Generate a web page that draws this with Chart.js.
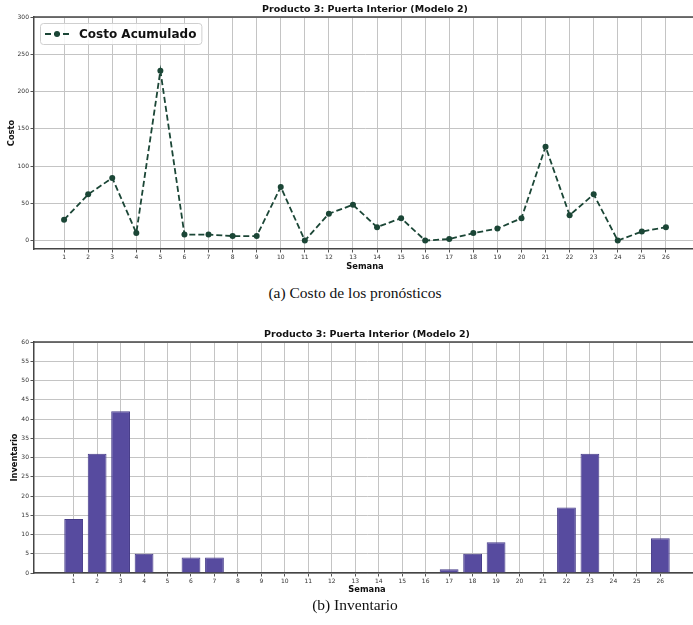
<!DOCTYPE html>
<html>
<head>
<meta charset="utf-8">
<script src="https://cdn.jsdelivr.net/npm/chart.js@4/dist/chart.umd.min.js"></script>
<style>
  html, body { margin: 0; padding: 0; background: #fff; width: 693px; height: 625px; overflow: hidden; }
  #page { position: relative; width: 693px; height: 625px; overflow: hidden; }
  .panel { position: absolute; left: 0; }
  #panelCosto { top: 0; }
  #panelInv { top: 326px; }
  .cap { position: absolute; left: 0; width: 710px; text-align: center;
         font-family: "Liberation Serif", "Times New Roman", serif; font-size: 15.5px;
         line-height: 18px; color: #111; }
  #capA { top: 284px; }
  #capB { top: 596px; }
</style>
</head>
<body>
<div id="page">
  <div class="panel" id="panelCosto"><canvas id="graficoCosto" width="700" height="275"></canvas></div>
  <div class="cap" id="capA">(a) Costo de los pronósticos</div>
  <div class="panel" id="panelInv"><canvas id="graficoInv" width="700" height="273"></canvas></div>
  <div class="cap" id="capB">(b) Inventario</div>
</div>
<script>
// Semanas del horizonte de planeación
const semanas = [1, 2, 3, 4, 5, 6, 7, 8, 9, 10, 11, 12, 13, 14, 15, 16, 17, 18, 19, 20, 21, 22, 23, 24, 25, 26];

// Costo acumulado de los pronósticos por semana
const costo = [28, 62, 84, 10, 228, 8, 8, 6, 6, 72, 0, 36, 48, 18, 30, 0, 2, 10, 16, 30, 126, 34, 62, 0, 12, 18];

// Inventario al final de cada semana
const inventario = [14, 31, 42, 5, 0, 4, 4, 0, 0, 0, 0, 0, 0, 0, 0, 0, 1, 5, 8, 0, 0, 17, 31, 0, 0, 9];

// Marcas de los ejes verticales
const ticksCosto = [0, 50, 100, 150, 200, 250, 300];
const ticksInventario = [0, 5, 10, 15, 20, 25, 30, 35, 40, 45, 50, 55, 60];

const titulo = 'Producto 3: Puerta Interior (Modelo 2)';
const FAMILIA = '"DejaVu Sans", sans-serif';
const GRID = '#c4c4c4';
const SPINE = '#454545';

Chart.defaults.font.family = FAMILIA;
Chart.defaults.color = '#333';

// Marco superior y derecho del área de trazado
const marco = {
  id: 'marco',
  afterDraw(chart) {
    const { ctx, chartArea: a } = chart;
    ctx.save();
    ctx.strokeStyle = SPINE;
    ctx.lineWidth = 1.5;
    ctx.beginPath();
    ctx.moveTo(a.left, a.top);
    ctx.lineTo(a.right, a.top);
    ctx.lineTo(a.right, a.bottom);
    ctx.stroke();
    ctx.restore();
  }
};

// Leyenda dentro del área de trazado (esquina superior izquierda)
const leyenda = {
  id: 'leyenda',
  afterDatasetsDraw(chart) {
    const ds = chart.data.datasets[0];
    const { ctx, chartArea: a } = chart;
    ctx.save();
    ctx.font = 'bold 12px ' + FAMILIA;
    const tw = ctx.measureText(ds.label).width;
    const x = a.left + 6, y = a.top + 6, h = 21, w = 39 + tw + 5;
    ctx.fillStyle = 'rgba(255,255,255,0.85)';
    ctx.strokeStyle = '#cfcfcf';
    ctx.lineWidth = 1;
    ctx.beginPath();
    ctx.roundRect(x + 0.5, y + 0.5, w, h, 3);
    ctx.fill();
    ctx.stroke();
    const cy = y + h / 2 + 0.5;
    ctx.strokeStyle = ds.borderColor;
    ctx.lineWidth = ds.borderWidth;
    ctx.setLineDash(ds.borderDash);
    ctx.beginPath();
    ctx.moveTo(x + 5, cy);
    ctx.lineTo(x + 29, cy);
    ctx.stroke();
    ctx.setLineDash([]);
    ctx.fillStyle = ds.pointBackgroundColor;
    ctx.beginPath();
    ctx.arc(x + 17, cy, ds.pointRadius, 0, Math.PI * 2);
    ctx.fill();
    ctx.fillStyle = '#111';
    ctx.textBaseline = 'middle';
    ctx.fillText(ds.label, x + 39, cy + 0.5);
    ctx.restore();
  }
};

function ejeX(min, max, alto, padTitulo) {
  return {
    type: 'linear',
    min: min,
    max: max,
    offset: false,
    afterBuildTicks: s => { s.ticks = semanas.map(v => ({ value: v })); },
    afterFit: s => { s.height = alto; },
    ticks: { font: { size: 6 }, color: '#333', padding: 1, autoSkip: false, maxRotation: 0 },
    grid: { offset: false, color: GRID, lineWidth: 1, tickLength: 3.5, tickColor: '#555' },
    border: { color: SPINE, width: 1.5 },
    title: { display: true, text: 'Semana', font: { size: 8.3, weight: 'bold' }, color: '#111',
             padding: { top: 0, bottom: padTitulo } }
  };
}

function ejeY(min, max, marcas, texto, padTitulo) {
  return {
    min: min,
    max: max,
    afterBuildTicks: s => { s.ticks = marcas.map(v => ({ value: v })); },
    afterFit: s => { s.width = 34; },
    ticks: { font: { size: 6 }, color: '#333', padding: 1.5 },
    grid: { color: GRID, lineWidth: 1, tickLength: 3.5, tickColor: '#555' },
    border: { color: SPINE, width: 1.5 },
    title: { display: true, text: texto, font: { size: 8.3, weight: 'bold' }, color: '#111',
             padding: { top: padTitulo, bottom: 0 } }
  };
}

function tituloPanel(pt, pb) {
  return {
    display: true, text: titulo, fullSize: false, color: '#111',
    font: { size: 9.5, weight: 'bold' }, padding: { top: pt, bottom: pb }
  };
}

new Chart(document.getElementById('graficoCosto'), {
  type: 'line',
  data: {
    datasets: [{
      label: 'Costo Acumulado',
      data: semanas.map((s, i) => ({ x: s, y: costo[i] })),
      borderColor: '#1b4636',
      backgroundColor: '#1b4636',
      pointBackgroundColor: '#1b4636',
      pointBorderColor: '#1b4636',
      borderWidth: 1.8,
      borderDash: [6, 3],
      pointRadius: 3,
      pointBorderWidth: 0,
      tension: 0,
      fill: false
    }]
  },
  options: {
    responsive: false,
    animation: false,
    devicePixelRatio: 1,
    layout: { padding: 0 },
    plugins: {
      legend: { display: false },
      tooltip: { enabled: false },
      title: tituloPanel(4.3, 1.3)
    },
    scales: {
      x: ejeX(-0.25, 27.25, 26, 3.6),
      y: ejeY(-11.35, 300, ticksCosto, 'Costo', 7)
    }
  },
  plugins: [marco, leyenda]
});

new Chart(document.getElementById('graficoInv'), {
  type: 'bar',
  data: {
    datasets: [{
      label: 'Inventario',
      data: semanas.map((s, i) => ({ x: s, y: inventario[i] })),
      backgroundColor: '#574b9f',
      borderColor: '#453b88',
      borderWidth: 1,
      borderSkipped: 'start',
      barPercentage: 0.8,
      categoryPercentage: 1.0
    }]
  },
  options: {
    responsive: false,
    animation: false,
    devicePixelRatio: 1,
    layout: { padding: 0 },
    plugins: {
      legend: { display: false },
      tooltip: { enabled: false },
      title: tituloPanel(3.3, 1.3)
    },
    scales: {
      x: ejeX(-0.69, 27.69, 26, 4.6),
      y: ejeY(0, 60, ticksInventario, 'Inventario', 10)
    }
  },
  plugins: [marco]
});
</script>
</body>
</html>
